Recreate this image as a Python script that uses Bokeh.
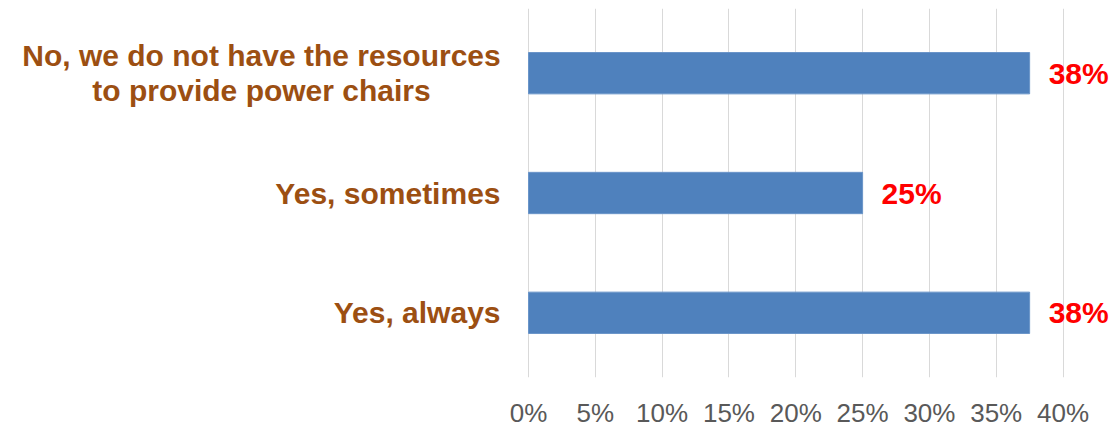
from bokeh.plotting import figure
from bokeh.models import FactorRange, Range1d, ColumnDataSource, FixedTicker, CustomJSTickFormatter
from bokeh.embed import file_html
from bokeh.resources import INLINE
from bokeh.core.properties import value

# Data (top to bottom in the picture)
categories = ["No, we do not have the resources\nto provide power chairs", "Yes, sometimes", "Yes, always"]
values = [37.5, 25.0, 37.5]
value_labels = ["38%", "25%", "38%"]
x_ticks = [0, 5, 10, 15, 20, 25, 30, 35, 40]

factors = list(reversed(categories))  # first factor is drawn at the bottom
src = ColumnDataSource(dict(cat=categories, val=values, lab=value_labels))

# category labels: single-line right aligned; multi-line block centered (Excel style)
multi = ["\n" in c for c in categories]
lab_src = ColumnDataSource(dict(
    cat=categories,
    zero=[0] * len(categories),
    align=["center" if m else "right" for m in multi],
    xoff=[-267 if m else -28 for m in multi],
))

p = figure(width=1114, height=430, output_backend="svg", toolbar_location=None,
           y_range=FactorRange(factors=factors, range_padding=0.04, range_padding_units="absolute"),
           x_range=Range1d(-39.51, 43.85),
           min_border_left=0, min_border_right=0, min_border_top=8, min_border_bottom=53)

p.hbar(y="cat", right="val", left=0, height=0.345, source=src,
       fill_color="#4F81BD", line_color="#6A95C9", line_width=1)

p.text(x="val", y="cat", text="lab", source=src, x_offset=19,
       text_align="left", text_baseline="middle",
       text_font=value("Liberation Sans"), text_font_style="bold",
       text_font_size="30px", text_color="#FF0000")

p.text(x="zero", y="cat", text="cat", source=lab_src, x_offset="xoff",
       text_align="align", text_baseline="middle",
       text_font=value("Liberation Sans"), text_font_style="bold",
       text_font_size="30px", text_color="#9C4F12", text_line_height=1.05)

p.outline_line_color = None
p.background_fill_color = "white"
p.border_fill_color = "white"

# grid
p.ygrid.grid_line_color = None
p.xgrid.grid_line_color = "#D9D9D9"
p.xgrid.grid_line_width = 1

# x axis
p.xaxis.ticker = FixedTicker(ticks=x_ticks)
p.xaxis.formatter = CustomJSTickFormatter(code="return tick + '%';")
p.xaxis.axis_line_color = None
p.xaxis.major_tick_line_color = None
p.xaxis.minor_tick_line_color = None
p.xaxis.major_tick_out = 0
p.xaxis.major_tick_in = 0
p.xaxis.major_label_standoff = 20
p.xaxis.major_label_text_font = "Liberation Sans"
p.xaxis.major_label_text_font_size = "26px"
p.xaxis.major_label_text_color = "#595959"

p.yaxis.visible = False

open("out.html", "w").write(file_html(p, INLINE))
